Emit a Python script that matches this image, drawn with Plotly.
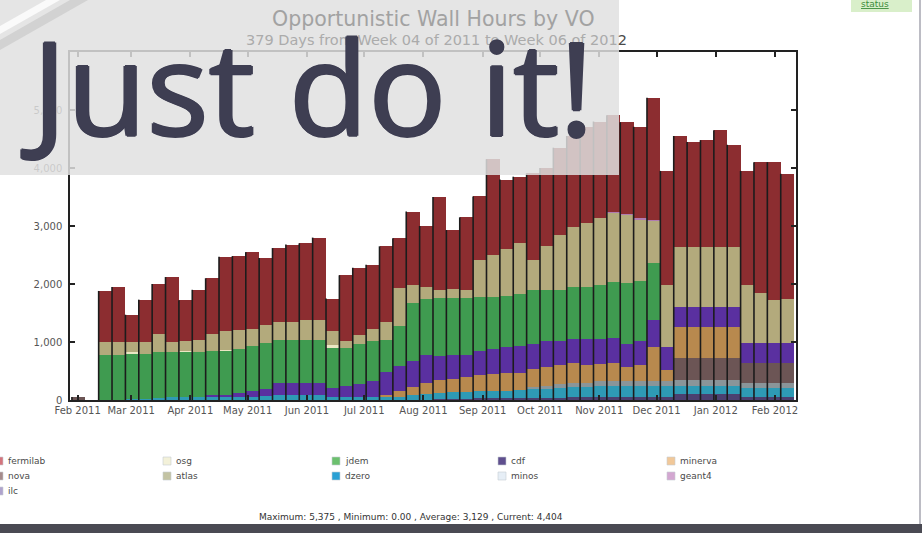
import plotly.graph_objects as go

# ---------------- data (weekly) ----------------
week_start = [
    "2011-01-29", "2011-02-05", "2011-02-12", "2011-02-19", "2011-02-26", "2011-03-05",
    "2011-03-12", "2011-03-19", "2011-03-26", "2011-04-02", "2011-04-09", "2011-04-16",
    "2011-04-23", "2011-04-30", "2011-05-07", "2011-05-14", "2011-05-21", "2011-05-28",
    "2011-06-04", "2011-06-11", "2011-06-18", "2011-06-25", "2011-07-02", "2011-07-09",
    "2011-07-16", "2011-07-23", "2011-07-30", "2011-08-06", "2011-08-13", "2011-08-20",
    "2011-08-27", "2011-09-03", "2011-09-10", "2011-09-17", "2011-09-24", "2011-10-01",
    "2011-10-08", "2011-10-15", "2011-10-22", "2011-10-29", "2011-11-05", "2011-11-12",
    "2011-11-19", "2011-11-26", "2011-12-03", "2011-12-10", "2011-12-17", "2011-12-24",
    "2011-12-31", "2012-01-07", "2012-01-14", "2012-01-21", "2012-01-28", "2012-02-04",
]

ilc = [0, 0, 0, 0, 0, 0, 0, 0, 0, 0, 0, 0, 0, 0, 0, 0, 0, 0, 0, 0, 0, 0, 0, 0, 0, 0, 0,
       20, 20, 20, 30, 30, 30, 30, 40, 40, 40, 50, 50, 60, 60, 60, 60, 60, 60,
       100, 100, 100, 100, 100, 60, 60, 60, 60]
dzero = [0, 0, 0, 0, 20, 20, 40, 50, 50, 50, 60, 60, 60, 60, 70, 80, 80, 80, 80, 60, 60, 60,
         60, 60, 60, 80, 100, 100, 110, 120, 120, 120, 130, 140, 150, 150, 160, 170, 170, 180,
         180, 180, 180, 180, 180, 150, 150, 150, 150, 150, 150, 150, 150, 150]
minos = [0, 0, 0, 0, 0, 0, 0, 0, 0, 0, 0, 0, 0, 0, 0, 0, 0, 0, 0, 0, 0, 0, 0, 0, 0, 0, 0,
         0, 0, 0, 0, 0, 0, 0, 40, 60, 70, 80, 80, 80, 80, 80, 80, 80, 80,
         95, 95, 95, 95, 95, 90, 90, 90, 90]
nova = [50, 0, 0, 0, 0, 0, 0, 0, 0, 0, 0, 0, 0, 0, 0, 0, 0, 0, 0, 0, 0, 0, 0, 0, 0, 0, 0,
        0, 0, 0, 0, 0, 0, 0, 0, 0, 0, 0, 0, 0, 0, 0, 0, 0, 0,
        375, 375, 375, 375, 375, 340, 340, 340, 340]
minerva = [0, 0, 0, 0, 0, 0, 0, 0, 0, 0, 0, 0, 0, 0, 0, 0, 0, 0, 0, 0, 0, 0, 0, 30, 100, 150,
           200, 220, 240, 260, 280, 290, 300, 300, 300, 320, 330, 340, 300, 300, 320, 250, 280,
           600, 200, 540, 540, 540, 540, 540, 0, 0, 0, 0]
cdf = [0, 0, 0, 0, 0, 0, 0, 0, 0, 0, 20, 30, 60, 90, 120, 210, 210, 210, 210, 150, 180, 220,
       260, 400, 420, 450, 480, 420, 400, 380, 420, 440, 450, 460, 440, 440, 420, 420, 450, 430,
       430, 400, 420, 460, 400, 340, 340, 340, 340, 340, 340, 340, 340, 340]
jdem = [0, 0, 780, 780, 780, 780, 790, 780, 780, 780, 760, 760, 760, 780, 800, 740, 740, 740,
        740, 700, 660, 680, 700, 550, 700, 1000, 970, 1000, 990, 980, 930, 900, 890, 890, 920,
        890, 880, 880, 900, 930, 960, 1050, 1040, 980, 0, 0, 0, 0, 0, 0, 0, 0, 0, 0]
osg = [0, 0, 0, 0, 20, 0, 0, 0, 20, 0, 0, 20, 0, 0, 0, 0, 0, 0, 0, 30, 0, 0, 0, 0, 0, 0, 0,
       0, 0, 0, 0, 0, 0, 0, 0, 0, 0, 0, 0, 0, 0, 0, 0, 0, 0, 0, 0, 0, 0, 0, 0, 0, 0, 0]
atlas = [0, 0, 220, 220, 180, 200, 300, 170, 170, 200, 300, 320, 320, 300, 300, 310, 310, 350,
         350, 250, 120, 160, 200, 300, 650, 300, 200, 140, 150, 140, 640, 720, 800, 880, 520,
         750, 950, 1050, 1100, 1150, 1200, 1180, 1060, 740, 1060, 1040, 1040, 1040, 1040, 1040,
         1000, 870, 740, 770]
geant4 = [0, 0, 0, 0, 0, 0, 0, 0, 0, 0, 0, 0, 0, 0, 0, 0, 0, 0, 0, 0, 0, 0, 0, 0, 0, 0, 0,
          0, 0, 0, 0, 0, 0, 0, 0, 0, 0, 0, 0, 0, 10, 10, 10, 10, 0, 0, 0, 0, 0, 0, 0, 0, 0, 0]
fermilab = [0, 0, 880, 950, 470, 730, 870, 1120, 700, 870, 960, 1280, 1280, 1320, 1160, 1280,
            1340, 1320, 1420, 560, 1130, 1160, 1110, 1310, 860, 1270, 1050, 1600, 1020, 1250,
            1090, 1650, 1200, 1150, 1500, 1350, 1500, 1560, 1650, 1670, 1670, 1580, 1580, 2100,
            1970, 1910, 1810, 1840, 2010, 1760, 1970, 2250, 2380, 2150]

series_names = ["ilc", "dzero", "minos", "nova", "minerva", "cdf", "jdem", "osg", "atlas",
                "geant4", "fermilab"]
series_values = [ilc, dzero, minos, nova, minerva, cdf, jdem, osg, atlas, geant4, fermilab]

month_ticks = ["2011-02-01", "2011-03-01", "2011-04-01", "2011-05-01", "2011-06-01",
               "2011-07-01", "2011-08-01", "2011-09-01", "2011-10-01", "2011-11-01",
               "2011-12-01", "2012-01-01", "2012-02-01"]
month_labels = ["Feb 2011", "Mar 2011", "Apr 2011", "May 2011", "Jun 2011", "Jul 2011",
                "Aug 2011", "Sep 2011", "Oct 2011", "Nov 2011", "Dec 2011", "Jan 2012",
                "Feb 2012"]
y_ticks = [0, 1000, 2000, 3000, 4000, 5000]

legend_columns = [["fermilab", "nova", "ilc"], ["osg", "atlas"], ["jdem", "dzero"],
                  ["cdf", "minos"], ["minerva", "geant4"]]

title_text = "Opportunistic Wall Hours by VO"
subtitle_text = "379 Days from Week 04 of 2011 to Week 06 of 201"
subtitle_last = "2"
stats_text = "Maximum: 5,375 , Minimum: 0.00 , Average: 3,129 , Current: 4,404"
overlay_text = "Just do it!"

# ---------------- styles ----------------
bar_colors = {
    "fermilab": "#8c2d30", "atlas": "#b3aa7c", "jdem": "#3f9b50", "cdf": "#5a30a0",
    "minerva": "#b8894e", "nova": "#6c5555", "dzero": "#2e9ab5", "minos": "#8a9599",
    "ilc": "#4b4070", "osg": "#ebe7c4", "geant4": "#b07cb0",
}
legend_colors = {
    "fermilab": "#d4747d", "nova": "#a58b8b", "ilc": "#afa3cd", "osg": "#f3f1d9",
    "atlas": "#c3c3a3", "jdem": "#6cc06e", "dzero": "#2aa0d4", "cdf": "#5f4f8e",
    "minos": "#e6eef6", "minerva": "#f1c899", "geant4": "#d3a7d1",
}
overlay_color = "#3e3e52"

L, R, T, B = 70, 796, 52, 400  # plot area in pixels
W, H = 922, 533


def X(px):
    return (px - L) / (R - L)


def Y(py):
    return (B - py) / (B - T)


week_ms = 7 * 24 * 3600 * 1000

fig = go.Figure()
for name, vals in zip(series_names, series_values):
    fig.add_trace(go.Bar(
        x=week_start, y=vals, name=name, width=week_ms, offset=0,
        marker=dict(color=bar_colors[name], line=dict(width=0)),
        showlegend=False, hoverinfo="x+y+name",
    ))

# dark weekly separators up to the top of each week's stack
totals = [sum(v[i] for v in series_values) for i in range(len(week_start))]
sx, sy = [], []
for d, t in zip(week_start, totals):
    if t > 0:
        sx += [d, d, None]
        sy += [0, t, None]
fig.add_trace(go.Scatter(x=sx, y=sy, mode="lines", line=dict(color="#1c1c1c", width=1.6),
                         showlegend=False, hoverinfo="skip"))

shapes = []
annotations = []

# overlay box and its decorative corner
shapes.append(dict(type="rect", xref="paper", yref="paper", x0=X(-5), x1=X(619),
                   y0=Y(175), y1=Y(-5), fillcolor="rgba(224,224,224,0.84)",
                   line=dict(width=0), layer="above"))
shapes.append(dict(type="path", xref="paper", yref="paper", layer="above",
                   path=f"M {X(0)},{Y(40)} L {X(0)},{Y(50)} L {X(88)},{Y(0)} L {X(70)},{Y(0)} Z",
                   fillcolor="#d2d2d2", line=dict(width=0)))
shapes.append(dict(type="path", xref="paper", yref="paper", layer="above",
                   path=f"M {X(0)},{Y(26)} L {X(0)},{Y(34)} L {X(60)},{Y(0)} L {X(46)},{Y(0)} Z",
                   fillcolor="#fafafa", line=dict(width=0)))

# page furniture: right border, bottom band, status button
shapes.append(dict(type="line", xref="paper", yref="paper", x0=X(920), x1=X(920),
                   y0=Y(524), y1=Y(-5), line=dict(color="#bcbcc4", width=2)))
shapes.append(dict(type="rect", xref="paper", yref="paper", x0=X(-5), x1=X(930),
                   y0=Y(540), y1=Y(524), fillcolor="#4a4a53", line=dict(width=0)))
shapes.append(dict(type="rect", xref="paper", yref="paper", x0=X(851), x1=X(912),
                   y0=Y(12), y1=Y(-5), fillcolor="#d9efca", line=dict(width=0)))
annotations.append(dict(text="<u>status</u>", xref="paper", yref="paper", x=X(875), y=Y(4),
                        xanchor="center", yanchor="middle", showarrow=False,
                        font=dict(family="DejaVu Sans", size=9, color="#3c8c3c")))

# titles (seen through the overlay)
annotations.append(dict(text=title_text, xref="paper", yref="paper", x=X(433), y=Y(19),
                        xanchor="center", yanchor="middle", showarrow=False,
                        font=dict(family="DejaVu Sans", size=20.5, color="#a2a2a2")))
annotations.append(dict(text=subtitle_text + f"<span style='color:#4a4a4a'>{subtitle_last}</span>",
                        xref="paper", yref="paper", x=X(436), y=Y(40),
                        xanchor="center", yanchor="middle", showarrow=False,
                        font=dict(family="DejaVu Sans", size=14.5, color="#ababab")))

# big overlay text (slightly thickened with a tight text shadow)
thick = (f"1.3px 0 0 {overlay_color}, -1.3px 0 0 {overlay_color}, "
         f"0 1px 0 {overlay_color}, 0 -1px 0 {overlay_color}")
annotations.append(dict(text=overlay_text, xref="paper", yref="paper", x=X(307), y=Y(85),
                        xanchor="center", yanchor="middle", showarrow=False,
                        font=dict(family="Open Sans", size=130, color=overlay_color,
                                  shadow=thick)))

# custom legend grid
col_x = [-5, 163, 332, 498, 667]
row_y = [461, 476, 491]
for cx, names in zip(col_x, legend_columns):
    for ry, name in zip(row_y, names):
        shapes.append(dict(type="rect", xref="paper", yref="paper", x0=X(cx), x1=X(cx + 8),
                           y0=Y(ry + 4), y1=Y(ry - 4), fillcolor=legend_colors[name],
                           line=dict(width=0.6, color="#c8ccd4")))
        annotations.append(dict(text=name, xref="paper", yref="paper", x=X(cx + 11), y=Y(ry),
                                xanchor="left", yanchor="middle", showarrow=False,
                                font=dict(family="DejaVu Sans", size=9, color="#4a4a4a")))

annotations.append(dict(text=stats_text, xref="paper", yref="paper", x=X(411), y=Y(517),
                        xanchor="center", yanchor="middle", showarrow=False,
                        font=dict(family="DejaVu Sans", size=9, color="#333333")))

axis_font = dict(family="DejaVu Sans", size=10, color="#555555")
fig.update_layout(
    width=W, height=H, autosize=False,
    margin=dict(l=L, r=W - R, t=T, b=H - B, pad=0),
    paper_bgcolor="white", plot_bgcolor="white",
    barmode="stack", bargap=0,
    showlegend=False,
    shapes=shapes, annotations=annotations,
    xaxis=dict(type="date", range=["2011-01-28", "2012-02-12"], tickvals=month_ticks,
               ticktext=month_labels, ticks="inside", ticklen=5, tickwidth=2,
               tickcolor="#222222", showline=True, linecolor="#222222", linewidth=1.5,
               mirror="ticks", showgrid=False, zeroline=False, tickfont=axis_font),
    yaxis=dict(range=[0, 6000], tickvals=y_ticks, tickformat=",d", ticks="inside",
               ticklen=5, tickwidth=2, tickcolor="#222222", showline=True,
               linecolor="#222222", linewidth=1.5, mirror="ticks", showgrid=False,
               zeroline=False, tickfont=axis_font, ticklabelstandoff=4),
)

fig.write_html("out.html")
